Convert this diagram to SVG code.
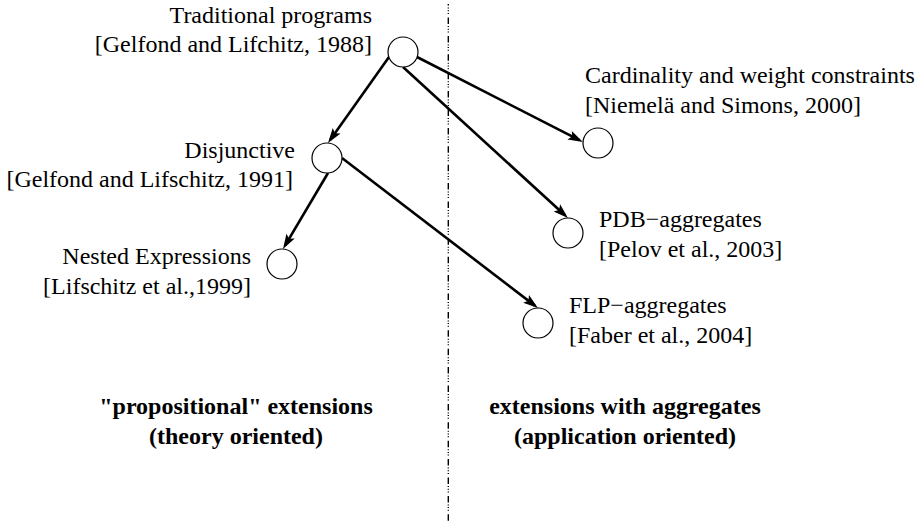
<svg xmlns="http://www.w3.org/2000/svg" width="919" height="522" viewBox="0 0 919 522">
<style>
text{font-family:"Liberation Serif","Times New Roman",serif;font-size:24px;fill:#000}
.r{text-anchor:end}
.b{font-weight:bold;text-anchor:middle}
.node circle{fill:#fff;stroke:#000;stroke-width:1.2}
.edge{fill:none;stroke:#000;stroke-width:2.6}
.divider{stroke:#000;stroke-width:1.4;stroke-dasharray:6.5 2 1 1.7 1 1.7 1 3.5;stroke-dashoffset:4.9}
</style>
<defs>
<marker id="arr" markerUnits="userSpaceOnUse" markerWidth="30" markerHeight="30" orient="auto" refX="0" refY="0" overflow="visible">
<path d="M4,0 L-11,-4.8 L-8,0 L-11,4.8 Z" fill="#000"/>
</marker>
</defs>
<rect width="919" height="522" fill="#fff"/>
<line class="divider" x1="448.3" y1="4" x2="448.3" y2="522"/>
<g id="connectors">
<line class="edge" x1="389" y1="57" x2="330.3" y2="139.7" marker-end="url(#arr)"/>
<line class="edge" x1="417" y1="57" x2="579.4" y2="140.2" marker-end="url(#arr)"/>
<line class="edge" x1="403" y1="67" x2="565" y2="215.3" marker-end="url(#arr)"/>
<line class="edge" x1="328" y1="173" x2="285" y2="245.6" marker-end="url(#arr)"/>
<line class="edge" x1="342" y1="158" x2="534.8" y2="305.6" marker-end="url(#arr)"/>
</g>
<g id="traditional" class="node">
<circle cx="403" cy="52" r="15"/>
<text class="r" x="372" y="23">Traditional programs</text>
<text class="r" x="372" y="52">[Gelfond and Lifchitz, 1988]</text>
</g>
<g id="disjunctive" class="node">
<circle cx="327" cy="158" r="15"/>
<text class="r" x="295" y="158">Disjunctive</text>
<text class="r" x="293" y="187">[Gelfond and Lifschitz, 1991]</text>
</g>
<g id="nested" class="node">
<circle cx="282" cy="264" r="15"/>
<text class="r" x="251" y="264">Nested Expressions</text>
<text class="r" x="251" y="294">[Lifschitz et al.,1999]</text>
</g>
<g id="cardinality" class="node">
<circle cx="598" cy="143" r="15"/>
<text x="585" y="83">Cardinality and weight constraints</text>
<text x="585" y="113">[Niemelä and Simons, 2000]</text>
</g>
<g id="pdb" class="node">
<circle cx="568" cy="233" r="15"/>
<text x="599" y="227">PDB−aggregates</text>
<text x="599" y="257">[Pelov et al., 2003]</text>
</g>
<g id="flp" class="node">
<circle cx="538" cy="323" r="15"/>
<text x="569" y="313">FLP−aggregates</text>
<text x="569" y="343">[Faber et al., 2004]</text>
</g>
<g id="label-left">
<text class="b" x="236" y="414">"propositional" extensions</text>
<text class="b" x="236" y="444">(theory oriented)</text>
</g>
<g id="label-right">
<text class="b" x="625" y="414">extensions with aggregates</text>
<text class="b" x="625" y="444">(application oriented)</text>
</g>
</svg>
